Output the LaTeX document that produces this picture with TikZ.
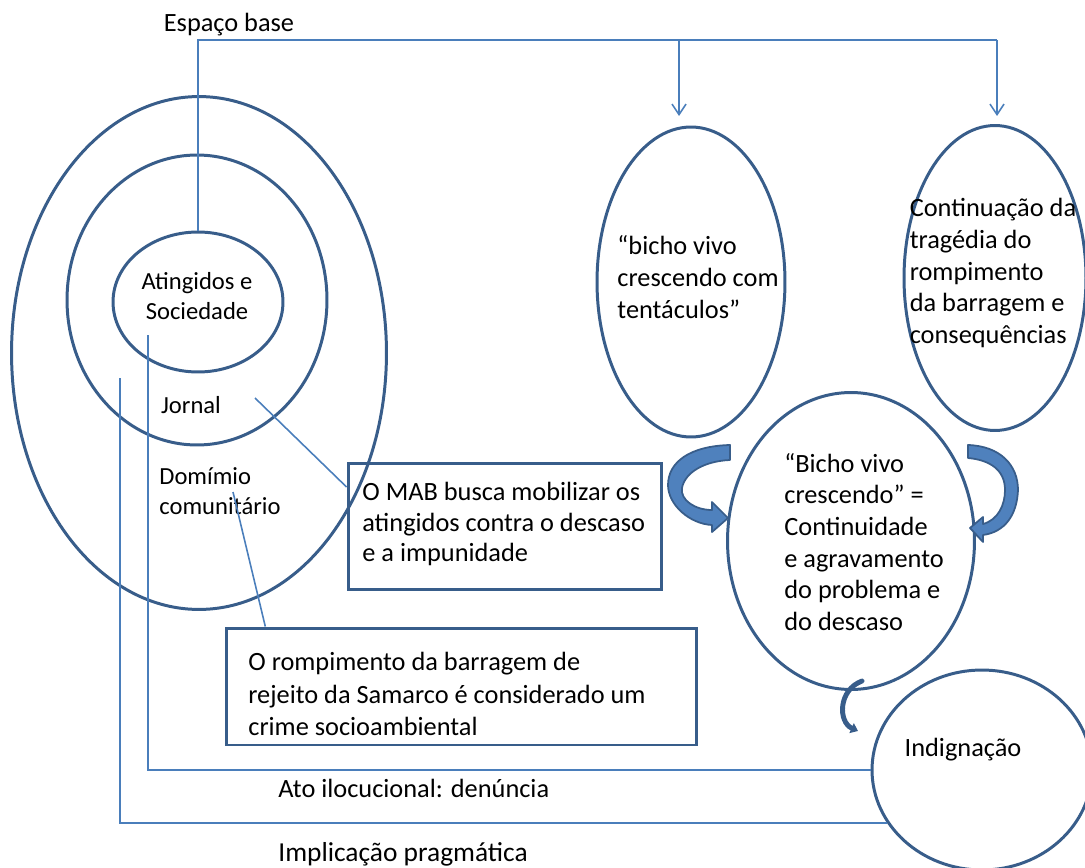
\documentclass[tikz,border=0pt]{standalone}
\usepackage{fontspec}
\setmainfont{Carlito}
\usetikzlibrary{shapes.geometric,arrows.meta}
\definecolor{ringColor}{RGB}{56,93,138}
\definecolor{linkColor}{RGB}{74,126,187}
\definecolor{bendFill}{RGB}{79,129,189}
\tikzstyle{diagram} = [x=0.02cm, y=-0.02cm]
\tikzstyle{ringStyle} = [ellipse, draw=ringColor, line width=1.7pt, inner sep=0pt]
\tikzstyle{boxStyle} = [draw=ringColor, line width=1.7pt, inner sep=0pt]
\tikzstyle{linkLine} = [color=linkColor, line width=0.9pt]
\tikzstyle{linkArrow} = [linkLine, -{Straight Barb[length=6pt,width=8pt]}]
\tikzstyle{bigText} = [align=left, inner sep=0pt, font=\fontsize{15}{18}\selectfont]
\tikzstyle{smallText} = [align=center, inner sep=0pt, font=\fontsize{14}{17}\selectfont]
\tikzstyle{bendArrow} = [fill=bendFill, draw=ringColor, line width=1pt, line join=round]

\begin{document}
\begin{tikzpicture}[diagram]
  \useasboundingbox (0,0) rectangle (1085,868);
  % rings on the left
  \node[ringStyle, minimum width=7.5cm, minimum height=10.26cm] (domain) at (199,353) {};
  \node[ringStyle, minimum width=5.2cm, minimum height=5.8cm] (jornal) at (197,300) {};
  \node[ringStyle, minimum width=3.4cm, minimum height=2.8cm] (atingidos) at (198,302) {};
  % ellipses on the right
  \node[ringStyle, minimum width=3.76cm, minimum height=6.2cm] (tentaculos) at (691,282) {};
  \node[ringStyle, minimum width=3.64cm, minimum height=6.1cm] (tragedia) at (995,278) {};
  \node[ringStyle, minimum width=4.94cm, minimum height=5.94cm] (continuidade) at (851,541) {};
  \node[ringStyle, minimum width=4.4cm, minimum height=4cm] (indignacao) at (982,770) {};

  \node[smallText] (atingidosText) at (197,296) {Atingidos e\\Sociedade};
  \node[smallText] (jornalText) at (191,405) {Jornal};
  \node[smallText, align=left] (dominioText) at (220,491) {Domímio\\comunitário};
  \node[bigText] (tentaculosText) at (698,277) {“bicho vivo\\crescendo com\\tentáculos”};
  \node[bigText] (tragediaText) at (993,273) {Continuação da\\tragédia do\\rompimento\\da barragem e\\consequências};
  \node[bigText] (continuidadeText) at (864,542) {“Bicho vivo\\crescendo” =\\Continuidade\\e agravamento\\do problema e\\do descaso};
  \node[bigText] (indignacaoText) at (963,750) {Indignação};

  % boxes
  \node[boxStyle, minimum width=6.28cm, minimum height=2.54cm] (mab) at (505,526.5) {};
  \node[bigText, anchor=west, font=\fontsize{15}{17.5}\selectfont] (mabText) at (362,524)
    {O MAB busca mobilizar os\\atingidos contra o descaso\\e a impunidade};
  \node[boxStyle, minimum width=9.42cm, minimum height=2.34cm] (samarco) at (461.5,686.5) {};
  \node[bigText, anchor=west, font=\fontsize{15}{18.5}\selectfont] (samarcoText) at (248,694)
    {O rompimento da barragem de\\rejeito da Samarco é considerado um\\crime socioambiental};

  \node[bigText] (espacoLabel) at (229,25) {Espaço base};
  \node[bigText, anchor=base west] (atoLabel) at (278,797) {Ato ilocucional: denúncia};
  \node[bigText, anchor=base west, font=\fontsize{15.6}{18}\selectfont] (implicacaoLabel) at (278,861) {Implicação pragmática};

  % connectors
  \coordinate (baseCorner) at (997,40);
  \coordinate (forkA) at (679,40);
  \coordinate (tipA) at (679,116);
  \coordinate (tipB) at (997,116);
  \draw[linkLine] (atingidos.north) |- (baseCorner);
  \draw[linkArrow] (baseCorner) -- (tipB);
  \draw[linkArrow] (forkA) -- (tipA);
  \coordinate (jornalFoot) at (255,398);
  \draw[linkLine] (jornalFoot) -- (mab.166);
  \coordinate (dominioFoot) at (233,492);
  \draw[linkLine] (dominioFoot) -- (samarco.163);
  \coordinate (atoStart) at (148,335);
  \draw[linkLine] (atoStart) |- (indignacao.west);
  \coordinate (implStart) at (120,378);
  \draw[linkLine] (implStart) |- (indignacao.209);

  % curved block arrows
  \filldraw[bendArrow] (730,445) .. controls (690,446) and (668,462) .. (668,485)
    .. controls (668,505) and (690,524) .. (712,525) -- (712,532) -- (728,518) -- (712,502) -- (712,510)
    .. controls (695,510) and (680,500) .. (682,488) .. controls (685,472) and (705,461) .. (730,460) -- cycle;
  \filldraw[bendArrow] (968,445) .. controls (1000,446) and (1018,465) .. (1018,490)
    .. controls (1017,515) and (1005,532) .. (983,535) -- (983,542) -- (970,528) -- (983,517) -- (983,524)
    .. controls (998,520) and (1005,505) .. (1005,490) .. controls (1005,470) and (990,460) .. (968,458) -- cycle;
  \draw[ringColor, line width=2.8pt, line cap=round, -{Triangle[length=4pt,width=6pt]}]
    (862,681) .. controls (838,690) and (838,722) .. (858,731);
\end{tikzpicture}
\end{document}
